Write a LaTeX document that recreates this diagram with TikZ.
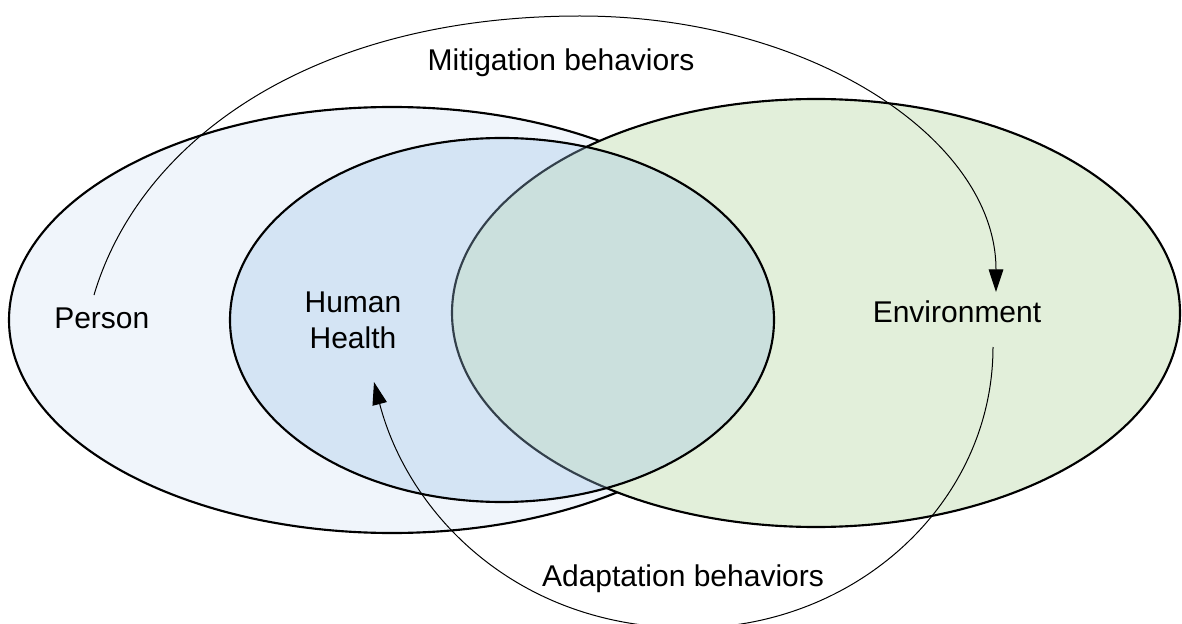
\documentclass[tikz,border=0pt]{standalone}
\usepackage{fontspec}
\setmainfont{Liberation Sans}
\usetikzlibrary{arrows.meta}
\definecolor{personfill}{RGB}{240,245,251}
\definecolor{envfill}{RGB}{226,239,218}
\definecolor{hhfill}{RGB}{157,195,230}
\tikzset{
  setbox/.style={draw=black, line width=1.6pt},
  behav/.style={draw=black, line width=0.75pt, -{Triangle[length=17pt,width=11pt]}},
  lbl/.style={font=\fontsize{22.5}{27}\selectfont, inner sep=0pt, text=black}
}
\begin{document}
\begin{tikzpicture}[x=0.75pt, y=-0.75pt]
\useasboundingbox (0,0) rectangle (1182,624);
\clip (0,0) rectangle (1182,624);
% sets
\path[setbox, fill=personfill] (392,320) ellipse [x radius=383, y radius=213];
\path[setbox, fill=envfill] (816,313) ellipse [x radius=364, y radius=214];
\path[setbox, fill=hhfill, fill opacity=0.33] (502,320) ellipse [x radius=272, y radius=182];
% labels
\node[lbl, anchor=base west] (person) at (54,328) {Person};
\node[lbl, anchor=base, align=center] (hh) at (353,348) {Human\\Health};
\node[lbl, anchor=base] (env) at (957,322) {Environment};
\node[lbl, anchor=base] (mit) at (561,71) {Mitigation behaviors};
\node[lbl, anchor=base] (ada) at (683,586) {Adaptation behaviors};
% connectors
\coordinate (mS) at (94,295);
\coordinate (mT) at (996,292);
\coordinate (aS) at (993,347);
\coordinate (aT) at (374,382);
\draw[behav] (mS) .. controls (140,140) and (312,16) .. (580,16)
  .. controls (810,16) and (996,139) .. (mT);
\draw[behav] (aS) .. controls (993,502) and (857,628) .. (690,628)
  .. controls (516,628) and (408,513) .. (aT);
\end{tikzpicture}
\end{document}
